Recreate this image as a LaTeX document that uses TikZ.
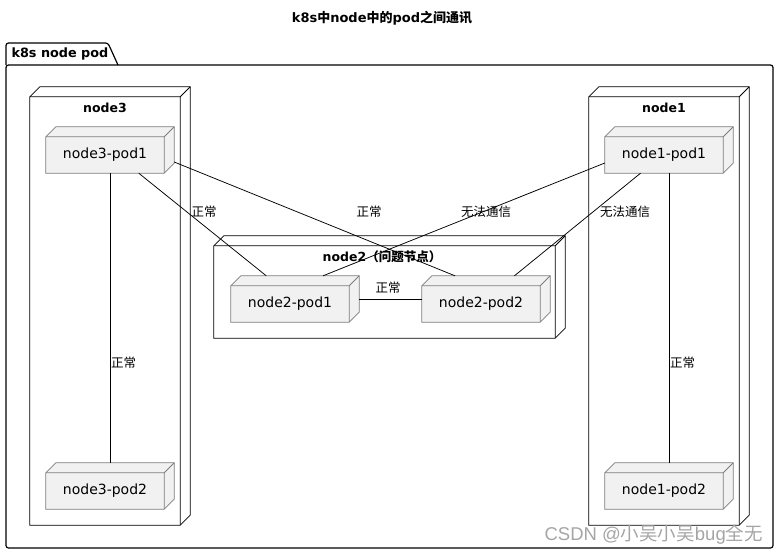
\documentclass[tikz,border=0pt]{standalone}
\usepackage{fontspec}
\usetikzlibrary{calc}
\usetikzlibrary{positioning}
\setmainfont{DejaVu Sans}
\newfontfamily\cjk{Noto Sans CJK SC}
\newfontfamily\arial{Liberation Sans}
\definecolor{cloud}{RGB}{241, 241, 241}
\definecolor{ash}{RGB}{125, 125, 125}
\definecolor{smoke}{RGB}{165, 165, 165}

% front face + top and side faces of a box, 10pt deep
\newcommand{\cubefaces}[3]{%
  \filldraw[draw=#2, fill=#3, line width=0.8pt]
    (#1.south west) -- ([yshift=-10pt]#1.north west) -- ([xshift=10pt]#1.north west)
    -- (#1.north east) -- ([yshift=10pt]#1.south east) -- ([xshift=-10pt]#1.south east) -- cycle;
  \draw[draw=#2, line width=0.8pt]
    ([yshift=-10pt]#1.north west) -- ([xshift=-10pt, yshift=-10pt]#1.north east) -- (#1.north east)
    ([xshift=-10pt, yshift=-10pt]#1.north east) -- ([xshift=-10pt]#1.south east);}

\tikzset{
  pod/.style={inner sep=0pt, minimum width=128pt, minimum height=46pt,
    append after command={\pgfextra{\cubefaces{\tikzlastnode}{ash}{cloud}}},
    label={[podtext, xshift=-5pt, yshift=-5pt]center:#1}},
  host/.style 2 args={inner sep=0pt, minimum width=#1, minimum height=#2,
    append after command={\pgfextra{\cubefaces{\tikzlastnode}{black}{white}}}},
  podtext/.style={font=\fontsize{14}{16}\selectfont},
  hosttext/.style={font=\fontsize{12.5}{15}\selectfont\bfseries},
  linktext/.style={font=\fontsize{12.5}{15}\selectfont\cjk, inner sep=1pt},
  link/.style={draw=black, line width=0.75pt},
  frame/.style={draw=black, line width=1.2pt, rounded corners=2.5pt},
}

\begin{document}
\begin{tikzpicture}[x=1pt, y=-1pt]
  \useasboundingbox (0,0) rectangle (779,555);
  % Title
  \node[font=\fontsize{13}{15}\selectfont\bfseries] (title) at (382,18)
       {k8s{\cjk 中}node{\cjk 中的}pod{\cjk 之间通讯}};
  % Package frame
  \draw[frame] (6,65) -- (6,43) -- (108,43) -- (118,65);
  \draw[frame] (6,65) rectangle (773,548);
  \node[font=\fontsize{12.8}{14}\selectfont\bfseries, anchor=west] (pkg) at (8,54) {k8s node pod};
  % Hosts
  \node[host={160pt}{438pt}] (n3) at (110,306) {};
  \node[host={160pt}{438pt}] (n1) at (669,306) {};
  \node[host={351pt}{102pt}] (n2) at (389.5,287) {};
  \node[hosttext]            (n3name) at (105,108) {node3};
  \node[hosttext]            (n1name) at (664,108) {node1};
  \node[hosttext]            (n2name) at (382,257) {node2{\cjk （问题节点）}};
  % Pods
  \node[pod=node3-pod1] (p31) at (110,150) {};
  \node[pod=node3-pod2] (p32) at (110,486) {};
  \node[pod=node1-pod1] (p11) at (669,150) {};
  \node[pod=node1-pod2] (p12) at (669,486) {};
  \node[pod=node2-pod1] (p21) at (295,299) {};
  \node[pod=node2-pod2] (p22) at (486,299) {};
  % Links
  \draw[link] (p31) -- (p32);
  \draw[link] (p31) -- (p21);
  \draw[link] ([yshift=-12pt]p31.east) -- ([xshift=-31pt]p22.north);
  \draw[link] ([yshift=-13pt]p11.west) -- ([xshift=28pt]p21.north);
  \draw[link] (p11) -- (p22);
  \draw[link] (p11) -- (p12);
  \draw[link] (p21) -- (p22);
  % Link labels
  \node[linktext, anchor=west] (l3a) at (110,363) {正常};
  \node[linktext, anchor=west] (l1a) at (669,363) {正常};
  \node[linktext]              (l3b) at (204,212) {正常};
  \node[linktext]              (l3c) at (369,212) {正常};
  \node[linktext]              (l1b) at (486,212) {无法通信};
  \node[linktext]              (l1c) at (625,212) {无法通信};
  \node[linktext]              (l2a) at (388,288) {正常};
  % Watermark
  \node[text=smoke, font=\fontsize{18.5}{20}\selectfont\arial, anchor=east, inner sep=0pt] (mark) at (763,535)
       {CSDN @{\cjk 小吴小吴}bug{\cjk 全无}};
\end{tikzpicture}
\end{document}
